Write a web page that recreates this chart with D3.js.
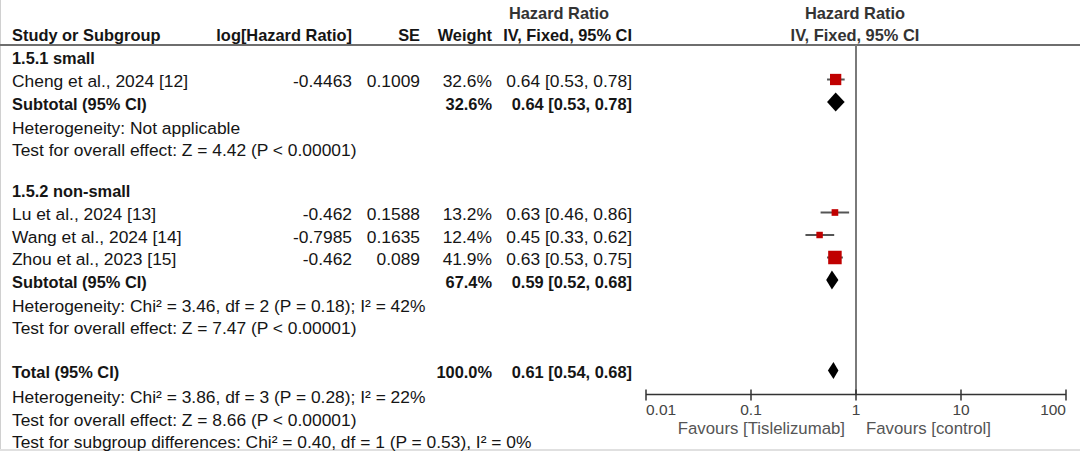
<!DOCTYPE html>
<html>
<head>
<meta charset="utf-8">
<script src="https://cdn.jsdelivr.net/npm/d3@7"></script>
<style>
  html, body { margin: 0; padding: 0; background: #fff; }
  svg { display: block; font-family: "Liberation Sans", Arial, sans-serif; }
</style>
</head>
<body>
<div id="chart"></div>
<script>
// ---- data ----
const groupNames = ["1.5.1 small", "1.5.2 non-small"];
const studyNames = ["Cheng et al., 2024 [12]", "Lu et al., 2024 [13]", "Wang et al., 2024 [14]", "Zhou et al., 2023 [15]"];
const studyGroup = [0, 1, 1, 1];
const logHR = ["-0.4463", "-0.462", "-0.7985", "-0.462"];
const seValues = ["0.1009", "0.1588", "0.1635", "0.089"];
const weights = [32.6, 13.2, 12.4, 41.9];
const hrValues = [0.64, 0.63, 0.45, 0.63];
const hrLower = [0.53, 0.46, 0.33, 0.53];
const hrUpper = [0.78, 0.86, 0.62, 0.75];

const subWeights = [32.6, 67.4];
const subHR = [0.64, 0.59];
const subLower = [0.53, 0.52];
const subUpper = [0.78, 0.68];
const subHet = ["Heterogeneity: Not applicable", "Heterogeneity: Chi\u00b2 = 3.46, df = 2 (P = 0.18); I\u00b2 = 42%"];
const subEffect = ["Test for overall effect: Z = 4.42 (P < 0.00001)", "Test for overall effect: Z = 7.47 (P < 0.00001)"];

const totalWeight = 100.0;
const totalHR = 0.61, totalLower = 0.54, totalUpper = 0.68;
const totalNotes = [
  "Heterogeneity: Chi\u00b2 = 3.86, df = 3 (P = 0.28); I\u00b2 = 22%",
  "Test for overall effect: Z = 8.66 (P < 0.00001)",
  "Test for subgroup differences: Chi\u00b2 = 0.40, df = 1 (P = 0.53), I\u00b2 = 0%"
];

const xTicks = [0.01, 0.1, 1, 10, 100];
const xTickLabels = ["0.01", "0.1", "1", "10", "100"];
const favourLeft = "Favours [Tislelizumab]";
const favourRight = "Favours [control]";

// ---- layout ----
const width = 1080, height = 451;
const svg = d3.select("#chart").append("svg")
  .attr("width", width)
  .attr("height", height);

const fmt = d3.format(".2f");
const ciText = (h, l, u) => `${fmt(h)} [${fmt(l)}, ${fmt(u)}]`;
const pct = w => d3.format(".1f")(w) + "%";

// gap (px) before each row type
const gapBefore = {
  headingFirst: 0, heading: 40.5, studyFirst: 23.5, study: 22.5, subtotal: 22.5,
  het: 24, effect: 22.5, total: 44, totalNote0: 25, totalNote: 22.5
};

// build rows in order
const rows = [];
groupNames.forEach((g, gi) => {
  rows.push({ type: gi === 0 ? "headingFirst" : "heading", text: g });
  studyNames.forEach((s, i) => {
    if (studyGroup[i] !== gi) return;
    const first = rows[rows.length - 1].type.startsWith("heading");
    rows.push({ type: first ? "studyFirst" : "study", idx: i });
  });
  rows.push({ type: "subtotal", idx: gi });
  rows.push({ type: "het", text: subHet[gi] });
  rows.push({ type: "effect", text: subEffect[gi] });
});
rows.push({ type: "total" });
totalNotes.forEach((t, i) => rows.push({ type: i === 0 ? "totalNote0" : "totalNote", text: t }));

let yCursor = 56;
rows.forEach(r => { yCursor += gapBefore[r.type]; r.y = yCursor; });

const col = { study: 12, logHR: 352, se: 420, weight: 492, ci: 632 };

const x = d3.scaleLog().domain([0.01, 100]).range([646, 1066]);
const boxSize = d3.scaleLinear().domain([0, d3.max(weights)]).range([3.5, 13.5]);
const axisY = 394.5;
const plotTop = 45;
const textShift = 1.5; // text sits a bit lower than the marks

function txt(xp, yp, s, opts = {}) {
  return svg.append("text")
    .attr("x", xp).attr("y", yp)
    .attr("dominant-baseline", "central")
    .attr("text-anchor", opts.anchor || "start")
    .attr("font-size", opts.size || (opts.bold ? 16.4 : 17.4))
    .attr("font-weight", opts.bold ? "bold" : "normal")
    .attr("fill", opts.fill || "#151515")
    .text(s);
}

// frame edges (screenshot border)
svg.append("line").attr("x1", 0.5).attr("x2", 0.5).attr("y1", 0).attr("y2", height)
  .attr("stroke", "#d0d0d0").attr("stroke-width", 1);
svg.append("line").attr("x1", 0).attr("x2", width).attr("y1", 450).attr("y2", 450)
  .attr("stroke", "#e0e0e0").attr("stroke-width", 2);

// headers
txt(559, 13, "Hazard Ratio", { bold: true, anchor: "middle", fill: "#333" });
txt(855, 13, "Hazard Ratio", { bold: true, anchor: "middle", fill: "#333" });
txt(col.study, 34.5, "Study or Subgroup", { bold: true });
txt(col.logHR, 34.5, "log[Hazard Ratio]", { bold: true, anchor: "end" });
txt(col.se, 34.5, "SE", { bold: true, anchor: "end" });
txt(col.weight, 34.5, "Weight", { bold: true, anchor: "end" });
txt(col.ci, 34.5, "IV, Fixed, 95% CI", { bold: true, anchor: "end" });
txt(855, 34.5, "IV, Fixed, 95% CI", { bold: true, anchor: "middle", fill: "#333" });

svg.append("line").attr("x1", 0).attr("x2", width).attr("y1", plotTop).attr("y2", plotTop)
  .attr("stroke", "#6e6e6e").attr("stroke-width", 2);

// line of no effect
svg.append("line").attr("x1", x(1)).attr("x2", x(1)).attr("y1", plotTop).attr("y2", axisY)
  .attr("stroke", "#7a7a7a").attr("stroke-width", 2);

function diamond(yc, h, l, u, half) {
  const pts = [[x(l), yc], [x(h), yc - half], [x(u), yc], [x(h), yc + half]];
  svg.append("path").attr("d", "M" + pts.join("L") + "Z").attr("fill", "#000");
}

rows.forEach(r => {
  const ty = r.y + textShift;
  if (r.type.startsWith("heading")) {
    txt(col.study, ty, r.text, { bold: true });
  } else if (r.type.startsWith("study")) {
    const i = r.idx;
    txt(col.study, ty, studyNames[i]);
    txt(col.logHR, ty, logHR[i], { anchor: "end" });
    txt(col.se, ty, seValues[i], { anchor: "end" });
    txt(col.weight, ty, pct(weights[i]), { anchor: "end" });
    txt(col.ci, ty, ciText(hrValues[i], hrLower[i], hrUpper[i]), { anchor: "end" });
    svg.append("line")
      .attr("x1", x(hrLower[i])).attr("x2", x(hrUpper[i]))
      .attr("y1", r.y).attr("y2", r.y)
      .attr("stroke", "#555").attr("stroke-width", 2);
    const s = boxSize(weights[i]);
    svg.append("rect")
      .attr("x", x(hrValues[i]) - s / 2).attr("y", r.y - s / 2)
      .attr("width", s).attr("height", s)
      .attr("fill", "#c00000");
  } else if (r.type === "subtotal") {
    const g = r.idx;
    txt(col.study, ty, "Subtotal (95% CI)", { bold: true });
    txt(col.weight, ty, pct(subWeights[g]), { bold: true, anchor: "end" });
    txt(col.ci, ty, ciText(subHR[g], subLower[g], subUpper[g]), { bold: true, anchor: "end" });
    diamond(r.y, subHR[g], subLower[g], subUpper[g], 9.5);
  } else if (r.type === "total") {
    txt(col.study, ty, "Total (95% CI)", { bold: true });
    txt(col.weight, ty, pct(totalWeight), { bold: true, anchor: "end" });
    txt(col.ci, ty, ciText(totalHR, totalLower, totalUpper), { bold: true, anchor: "end" });
    diamond(r.y, totalHR, totalLower, totalUpper, 8.5);
  } else {
    txt(col.study, ty, r.text);
  }
});

// x axis
const axis = svg.append("g").attr("transform", `translate(0,${axisY})`);
axis.append("line").attr("x1", x.range()[0]).attr("x2", x.range()[1])
  .attr("stroke", "#333").attr("stroke-width", 1.5);
axis.selectAll("line.tick").data(xTicks).enter().append("line")
  .attr("class", "tick")
  .attr("x1", d => x(d)).attr("x2", d => x(d))
  .attr("y1", -5).attr("y2", 6)
  .attr("stroke", "#333").attr("stroke-width", 1.5);
axis.selectAll("text").data(xTicks).enter().append("text")
  .attr("x", d => x(d))
  .attr("y", 15)
  .attr("dominant-baseline", "central")
  .attr("text-anchor", (d, i) => i === 0 ? "start" : (i === xTicks.length - 1 ? "end" : "middle"))
  .attr("font-size", 15.5)
  .attr("fill", "#444")
  .text((d, i) => xTickLabels[i]);

txt(x(1) - 11, 428, favourLeft, { anchor: "end", fill: "#555", size: 16.8 });
txt(x(1) + 10, 428, favourRight, { fill: "#555", size: 16.8 });
</script>
</body>
</html>
